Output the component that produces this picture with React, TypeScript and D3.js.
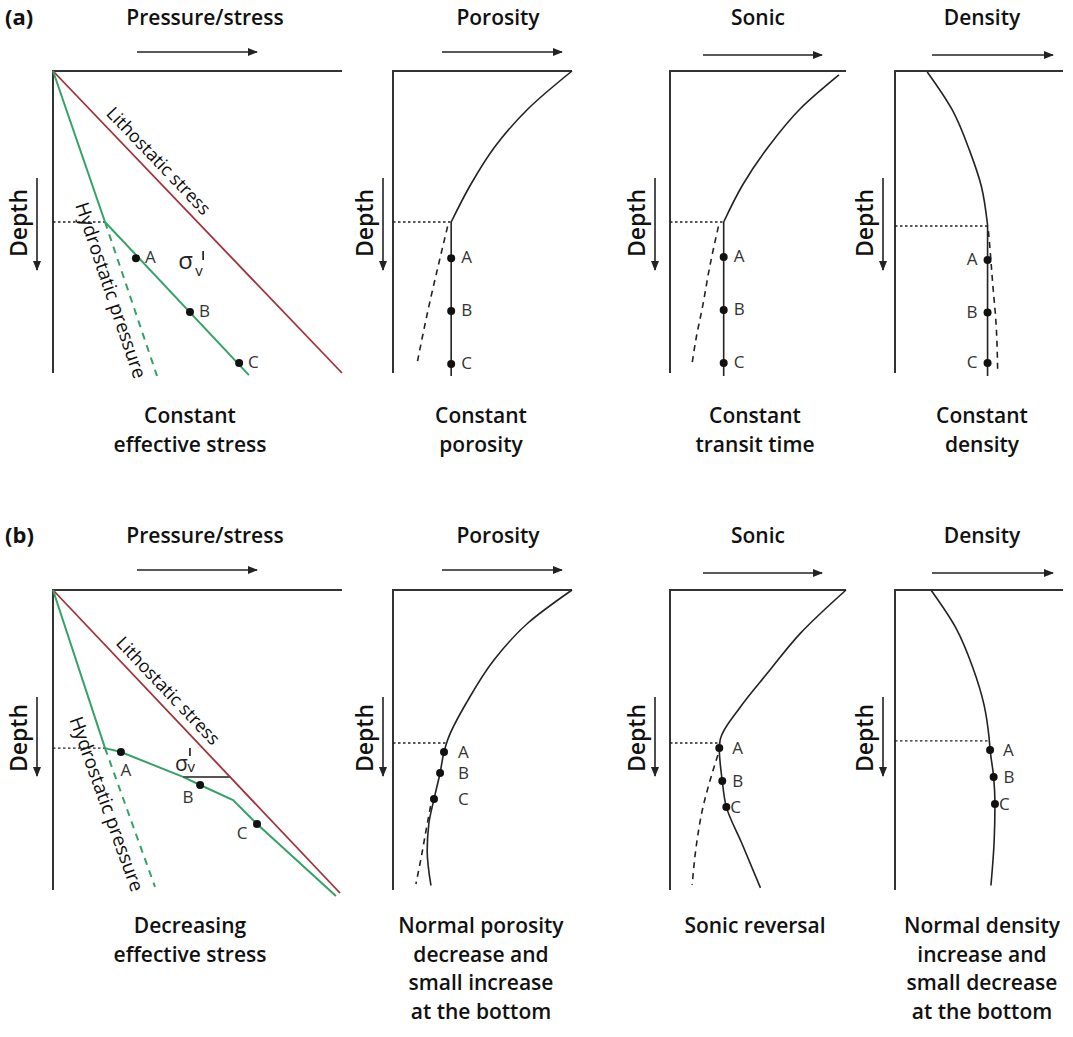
import React from "react";
import * as d3 from "d3";

type Pt = [number, number];

// ---------------- text content ----------------
const ROW_LABELS = ["(a)", "(b)"];
const TRACK_TITLES = ["Pressure/stress", "Porosity", "Sonic", "Density"];
const DEPTH_TEXT = "Depth";
const POINT_NAMES = ["A", "B", "C"];
const LITHO_TEXT = "Lithostatic stress";
const HYDRO_TEXT = "Hydrostatic pressure";
const SIGMA_TEXT = "σ";
const SIGMA_SUB = "v";

const CAPTIONS_A = [
  ["Constant", "effective stress"],
  ["Constant", "porosity"],
  ["Constant", "transit time"],
  ["Constant", "density"],
];
const CAPTIONS_B = [
  ["Decreasing", "effective stress"],
  ["Normal porosity", "decrease and", "small increase", "at the bottom"],
  ["Sonic reversal"],
  ["Normal density", "increase and", "small decrease", "at the bottom"],
];

// ---------------- data: (value 0-100, depth 0-100) ----------------
// Row (a): constant effective stress
const A_LITHOSTATIC: Pt[] = [[0, 0], [100, 100]];
const A_HYDROSTATIC: Pt[] = [[0, 0], [18, 50]];
const A_HYDRO_TREND: Pt[] = [[18, 50], [36, 101]];
const A_PORE_PRESSURE: Pt[] = [[18, 50], [67.8, 100.7]];
const A_PRESSURE_ABC: Pt[] = [[28.7, 62], [47.4, 79.8], [64.4, 96.7]];

const A_POROSITY: Pt[] = [[100, 0], [75.5, 12.5], [57, 25], [43.5, 37.5], [32.5, 50]];
const A_POROSITY_OP: Pt[] = [[32.5, 50], [32.5, 101]];
const A_POROSITY_TREND: Pt[] = [[30.5, 51.5], [25.1, 64.9], [19.6, 79.1], [13.4, 97]];
const A_POROSITY_ABC: Pt[] = [[32.5, 62], [32.5, 79.5], [32.5, 97]];

const A_SONIC: Pt[] = [[96, 1.3], [74, 12.5], [56, 25], [41.5, 37.5], [30.5, 50]];
const A_SONIC_OP: Pt[] = [[30.5, 50], [30.5, 101]];
const A_SONIC_TREND: Pt[] = [[27.5, 51.5], [22.5, 65], [18.5, 78], [15, 88], [12.4, 97.4]];
const A_SONIC_ABC: Pt[] = [[30.5, 61.6], [30.5, 79.1], [30.5, 96.7]];

const A_DENSITY: Pt[] = [[19.2, 0.3], [34.1, 12.9], [44.3, 26.2], [51.5, 38.4], [55.1, 51]];
const A_DENSITY_OP: Pt[] = [[55.1, 51], [55.1, 101]];
const A_DENSITY_TREND: Pt[] = [[55.6, 53], [56.4, 58], [58.1, 70], [60.3, 85], [61.1, 99]];
const A_DENSITY_ABC: Pt[] = [[55.1, 62.6], [55.1, 80], [55.1, 96.7]];

// top of overpressure: [depth, value where dotted line stops]
const A_TOP_OP: Pt[] = [[50, 18], [50, 32.5], [50, 30.5], [51.3, 55.1]];

// Row (b): decreasing effective stress
const B_LITHOSTATIC: Pt[] = [[0, 0], [99.3, 101]];
const B_HYDROSTATIC: Pt[] = [[0, 0], [18, 52.7]];
const B_HYDRO_TREND: Pt[] = [[18, 52.7], [35.3, 99]];
const B_PORE_PRESSURE: Pt[] = [[18, 52.7], [23.5, 54], [45, 62.3], [50.9, 65], [62.3, 70], [70.6, 78], [97.9, 102]];
const B_PRESSURE_ABC: Pt[] = [[23.5, 54], [50.9, 65], [70.6, 78]];
const B_EFFECTIVE_BAR: Pt[] = [[45, 62.3], [61.3, 62.3]];

const B_POROSITY: Pt[] = [[100, 0], [75.4, 11], [56.4, 23.3], [41.9, 36.7], [30.5, 50], [28.5, 54], [26.3, 61], [22.9, 69.7], [20, 78], [19.1, 87], [21.2, 98.5]];
const B_POROSITY_TREND: Pt[] = [[21, 72], [18.5, 80], [15.8, 89], [12.8, 98]];
const B_POROSITY_ABC: Pt[] = [[28.5, 54], [26.3, 61], [22.9, 69.7]];

const B_SONIC: Pt[] = [[100, 0], [74.3, 14.3], [55.4, 27.7], [40, 39], [28.6, 49.7], [28, 52.7], [29.7, 63.7], [32, 72.3], [40.5, 84], [51.4, 99.3]];
const B_SONIC_TREND: Pt[] = [[27.2, 55], [22.5, 64], [18.5, 73], [15, 85], [12.6, 98.3]];
const B_SONIC_ABC: Pt[] = [[28, 52.7], [29.7, 63.7], [32, 72.3]];

const B_DENSITY: Pt[] = [[21.4, 0], [36.3, 12.7], [46.4, 26], [53, 38.3], [56, 49.3], [56.6, 53.3], [58.7, 62.3], [59.5, 71.3], [59, 84], [57.1, 98.5]];
const B_DENSITY_ABC: Pt[] = [[56.6, 53.3], [58.7, 62.3], [59.5, 71.3]];

const B_TOP_OP: Pt[] = [[52.7, 18], [51, 30.3], [51, 28.6], [50.3, 56]];

// ---------------- layout & style ----------------
const ROWS = [
  { top: 71, bottom: 373, titleY: 25, arrowY: 52, depthArrow: [178, 270], depthMid: 223, captionY: 423 },
  { top: 590, bottom: 890, titleY: 543, arrowY: 570, depthArrow: [697, 776], depthMid: 738, captionY: 933 },
];
const COLS = [
  { left: 53, right: 342, titleX: 205, arrow: [137, 257], arrowDy: 0, depthX: 27, depthArrowX: 37, captionX: 190 },
  { left: 393, right: 572, titleX: 498, arrow: [442, 562], arrowDy: 0, depthX: 373, depthArrowX: 383, captionX: 481 },
  { left: 670, right: 846, titleX: 758, arrow: [703, 822], arrowDy: 3, depthX: 645, depthArrowX: 655, captionX: 755 },
  { left: 895, right: 1063, titleX: 982, arrow: [932, 1053], arrowDy: 3, depthX: 873, depthArrowX: 883, captionX: 982 },
];

const INK = "#222";
const AXIS = "#333";
const GREEN = "#34a266";
const RED = "#a03338";
const FONT = "'Open Sans', 'Noto Sans', sans-serif";
const BIG = 21;

type Curve = { pts: Pt[]; smooth?: boolean; color?: string; dashed?: boolean; width?: number };
type Track = {
  curves: Curve[];
  dots: Pt[];
  labelOff: [number, number][];
  labelAnchor: "start" | "end" | "middle";
  topOp: Pt;
};

const TRACKS: Track[][] = [
  [
    {
      curves: [
        { pts: A_LITHOSTATIC, color: RED, width: 1.8 },
        { pts: A_HYDROSTATIC, color: GREEN, width: 2 },
        { pts: A_HYDRO_TREND, color: GREEN, dashed: true, width: 2 },
        { pts: A_PORE_PRESSURE, color: GREEN, width: 2 },
      ],
      dots: A_PRESSURE_ABC,
      labelOff: [[9, 5], [9, 5], [9, 5]],
      labelAnchor: "start",
      topOp: A_TOP_OP[0],
    },
    {
      curves: [
        { pts: A_POROSITY, smooth: true },
        { pts: A_POROSITY_OP },
        { pts: A_POROSITY_TREND, smooth: true, dashed: true },
      ],
      dots: A_POROSITY_ABC,
      labelOff: [[10, 5], [10, 5], [10, 5]],
      labelAnchor: "start",
      topOp: A_TOP_OP[1],
    },
    {
      curves: [
        { pts: A_SONIC, smooth: true },
        { pts: A_SONIC_OP },
        { pts: A_SONIC_TREND, smooth: true, dashed: true },
      ],
      dots: A_SONIC_ABC,
      labelOff: [[10, 5], [10, 5], [10, 5]],
      labelAnchor: "start",
      topOp: A_TOP_OP[2],
    },
    {
      curves: [
        { pts: A_DENSITY, smooth: true },
        { pts: A_DENSITY_OP },
        { pts: A_DENSITY_TREND, smooth: true, dashed: true },
      ],
      dots: A_DENSITY_ABC,
      labelOff: [[-10, 5], [-10, 5], [-10, 5]],
      labelAnchor: "end",
      topOp: A_TOP_OP[3],
    },
  ],
  [
    {
      curves: [
        { pts: B_LITHOSTATIC, color: RED, width: 1.8 },
        { pts: B_HYDROSTATIC, color: GREEN, width: 2 },
        { pts: B_HYDRO_TREND, color: GREEN, dashed: true, width: 2 },
        { pts: B_PORE_PRESSURE, color: GREEN, width: 2 },
        { pts: B_EFFECTIVE_BAR, color: "#555", width: 2 },
      ],
      dots: B_PRESSURE_ABC,
      labelOff: [[5, 24], [-12, 18], [-15, 15]],
      labelAnchor: "middle",
      topOp: B_TOP_OP[0],
    },
    {
      curves: [
        { pts: B_POROSITY, smooth: true },
        { pts: B_POROSITY_TREND, smooth: true, dashed: true },
      ],
      dots: B_POROSITY_ABC,
      labelOff: [[14, 6], [18, 6], [24, 6]],
      labelAnchor: "start",
      topOp: B_TOP_OP[1],
    },
    {
      curves: [
        { pts: B_SONIC, smooth: true },
        { pts: B_SONIC_TREND, smooth: true, dashed: true },
      ],
      dots: B_SONIC_ABC,
      labelOff: [[13, 6], [10, 6], [4, 6]],
      labelAnchor: "start",
      topOp: B_TOP_OP[2],
    },
    {
      curves: [{ pts: B_DENSITY, smooth: true }],
      dots: B_DENSITY_ABC,
      labelOff: [[13, 6], [10, 6], [4, 6]],
      labelAnchor: "start",
      topOp: B_TOP_OP[3],
    },
  ],
];

const CAPTIONS = [CAPTIONS_A, CAPTIONS_B];
const LITHO_T = [0.33, 0.365];
const HYDRO_T = [0.41, 0.36];
const HYDRO_DY = [23, 24];
const SIGMA_AT: Pt[] = [[43.3, 65.6], [42.2, 60.3]];
// sigma glyph layout per row: [size, subDx, subDy, primeDx, primeY1, primeY2]
const SIGMA_STYLE = [
  [24, 17, 7, 25, -18, -9],
  [21, 12.5, 1, 15, -23, -15],
];

function TrackView({ ri, ci }: { ri: number; ci: number }) {
  const row = ROWS[ri];
  const col = COLS[ci];
  const tr = TRACKS[ri][ci];
  const x = d3.scaleLinear().domain([0, 100]).range([col.left, col.right]);
  const y = d3.scaleLinear().domain([0, 100]).range([row.top, row.bottom]);
  const lineLin = d3.line<Pt>().x((d) => x(d[0])).y((d) => y(d[1]));
  const lineSm = d3
    .line<Pt>()
    .x((d) => x(d[0]))
    .y((d) => y(d[1]))
    .curve(d3.curveMonotoneY);

  const els: React.ReactNode[] = [];
  els.push(
    <path key="frame" d={`M${col.left},${row.bottom}V${row.top}H${col.right}`} fill="none" stroke={AXIS} strokeWidth={2} />
  );
  els.push(
    <line
      key="dot"
      x1={col.left}
      x2={x(tr.topOp[1])}
      y1={y(tr.topOp[0])}
      y2={y(tr.topOp[0])}
      stroke={INK}
      strokeWidth={1.4}
      strokeDasharray="2.5 2.5"
    />
  );
  tr.curves.forEach((c, i) => {
    const gen = c.smooth ? lineSm : lineLin;
    els.push(
      <path
        key={"c" + i}
        d={gen(c.pts) || ""}
        fill="none"
        stroke={c.color || INK}
        strokeWidth={c.width || 1.6}
        strokeDasharray={c.dashed ? (c.color ? "7 6" : "6 5") : undefined}
      />
    );
  });
  tr.dots.forEach((p, i) => {
    els.push(<circle key={"d" + i} cx={x(p[0])} cy={y(p[1])} r={4} fill="#111" />);
    els.push(
      <text
        key={"l" + i}
        x={x(p[0]) + tr.labelOff[i][0]}
        y={y(p[1]) + tr.labelOff[i][1]}
        textAnchor={tr.labelAnchor}
        fontSize={17}
        fill="#333"
        fontFamily={FONT}
      >
        {POINT_NAMES[i]}
      </text>
    );
  });

  if (ci === 0) {
    const litho = ri === 0 ? A_LITHOSTATIC : B_LITHOSTATIC;
    const hydro = ri === 0 ? A_HYDRO_TREND : B_HYDRO_TREND;
    const place = (seg: Pt[], t: number, dy: number, size: number, text: string, key: string) => {
      const x1 = x(seg[0][0]), y1 = y(seg[0][1]), x2 = x(seg[1][0]), y2 = y(seg[1][1]);
      const ang = (Math.atan2(y2 - y1, x2 - x1) * 180) / Math.PI;
      const px = x1 + (x2 - x1) * t, py = y1 + (y2 - y1) * t;
      return (
        <text
          key={key}
          transform={`translate(${px},${py}) rotate(${ang})`}
          y={dy}
          textAnchor="middle"
          fontSize={size}
          fontWeight={500}
          fill="#0d0d0d"
          fontFamily={FONT}
        >
          {text}
        </text>
      );
    };
    els.push(place(litho, LITHO_T[ri], -8, 18, LITHO_TEXT, "litho"));
    els.push(place(hydro, HYDRO_T[ri], HYDRO_DY[ri], 19, HYDRO_TEXT, "hydro"));
    const s = SIGMA_AT[ri];
    const st = SIGMA_STYLE[ri];
    const sx = x(s[0]), sy = y(s[1]);
    els.push(
      <text key="sigma" x={sx} y={sy} fontFamily={FONT} fill="#222" fontSize={st[0]}>
        {SIGMA_TEXT}
      </text>
    );
    els.push(
      <text key="sigsub" x={sx + st[1]} y={sy + st[2]} fontFamily={FONT} fill="#222" fontSize={15}>
        {SIGMA_SUB}
      </text>
    );
    els.push(
      <line key="prime" x1={sx + st[3]} x2={sx + st[3]} y1={sy + st[4]} y2={sy + st[5]} stroke="#222" strokeWidth={1.7} />
    );
  }

  els.push(
    <text key="title" x={col.titleX} y={row.titleY} textAnchor="middle" fontSize={BIG} fontWeight={600} fill="#111" fontFamily={FONT}>
      {TRACK_TITLES[ci]}
    </text>
  );
  els.push(
    <line key="tarrow" x1={col.arrow[0]} x2={col.arrow[1]} y1={row.arrowY + col.arrowDy} y2={row.arrowY + col.arrowDy} stroke={INK} strokeWidth={1.6} markerEnd="url(#ah)" />
  );
  els.push(
    <text key="depth" transform={`translate(${col.depthX},${row.depthMid}) rotate(-90)`} textAnchor="middle" fontSize={23} fontWeight={600} fill="#111" fontFamily={FONT}>
      {DEPTH_TEXT}
    </text>
  );
  els.push(
    <line key="darrow" x1={col.depthArrowX} x2={col.depthArrowX} y1={row.depthArrow[0]} y2={row.depthArrow[1]} stroke={INK} strokeWidth={1.6} markerEnd="url(#ah)" />
  );
  CAPTIONS[ri][ci].forEach((line, i) => {
    els.push(
      <text key={"cap" + i} x={col.captionX} y={row.captionY + i * 28.5} textAnchor="middle" fontSize={BIG} fontWeight={600} fill="#111" fontFamily={FONT}>
        {line}
      </text>
    );
  });
  return <g>{els}</g>;
}

export default function App() {
  return (
    <svg
      width={1073}
      height={1037}
      viewBox="0 0 1073 1037"
      style={{ position: "absolute", left: 0, top: 0, background: "#fff" }}
    >
      <defs>
        <marker id="ah" viewBox="0 0 10 10" refX={9} refY={5} markerUnits="userSpaceOnUse" markerWidth={12} markerHeight={10} orient="auto">
          <path d="M0,1 L10,5 L0,9 Z" fill={INK} />
        </marker>
      </defs>
      <rect width={1073} height={1037} fill="#fff" />
      {ROWS.map((r, ri) => (
        <text key={"rl" + ri} x={5} y={r.titleY} fontSize={22} fontWeight={700} fill="#111" fontFamily={FONT}>
          {ROW_LABELS[ri]}
        </text>
      ))}
      {ROWS.map((_, ri) => COLS.map((_, ci) => <TrackView key={ri + "-" + ci} ri={ri} ci={ci} />))}
    </svg>
  );
}
